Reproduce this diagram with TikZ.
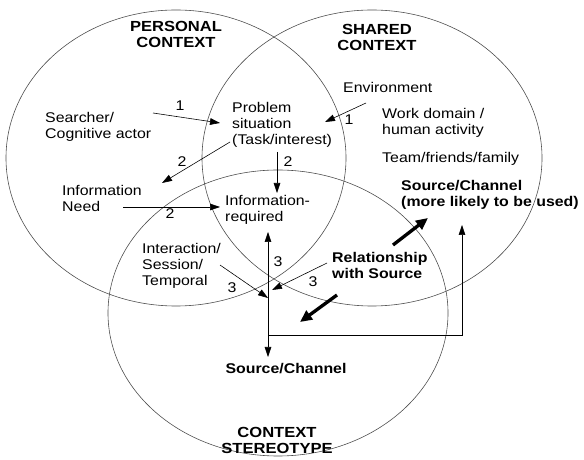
\documentclass[tikz,border=0pt]{standalone}
\usepackage{fontspec}
\setmainfont{Liberation Sans}[FakeStretch=1.13]
\usepackage{tikz}
\usetikzlibrary{arrows.meta, calc, positioning}

\begin{document}
\begin{tikzpicture}[x=0.03cm, y=-0.03cm,
  every node/.style={inner sep=0pt, font=\fontsize{12}{13.5}\selectfont},
  ring/.style={draw=black!70, line width=0.5pt},
  head/.style={align=center, font=\fontsize{12.5}{14}\selectfont\bfseries},
  txt/.style={align=left, anchor=north west},
  boldtxt/.style={txt, font=\fontsize{12}{13.5}\selectfont\bfseries},
  flow/.style={-{Triangle[length=3mm, width=2mm]}, line width=0.5pt},
  bigflow/.style={-{Triangle[length=3.6mm, width=3.2mm]}, line width=1mm}]

\useasboundingbox (0,0) rectangle (584,460);

% the three contexts
\coordinate (P) at (176,158);
\coordinate (S) at (372,158);
\coordinate (T) at (278,313);
\draw[ring] (P) ellipse [x radius=5.1cm, y radius=4.44cm];
\draw[ring] (S) ellipse [x radius=5.1cm, y radius=4.44cm];
\draw[ring] (T) ellipse [x radius=5.1cm, y radius=4.29cm];

\node[head, anchor=north] (personal) at (176,21) {PERSONAL\\CONTEXT};
\node[head, anchor=north] (shared) at (377,24) {SHARED\\CONTEXT};
\node[head, anchor=north] (stereo) at (277,427) {CONTEXT\\STEREOTYPE};

\node[txt] (searcher) at (45,112) {Searcher/\\Cognitive actor};
\node[txt] (problem) at (232,102) {Problem\\situation\\(Task/interest)};
\node[txt] (need) at (62,185) {Information\\Need};
\node[txt] (required) at (225,195) {Information-\\required};
\node[txt] (interact) at (142,243) {Interaction/\\Session/\\Temporal};
\node[txt] (env) at (343,82) {Environment};
\node[txt] (work) at (382,108) {Work domain /\\human activity};
\node[txt] (team) at (382,152) {Team/friends/family};
\node[boldtxt] (likely) at (401,180) {Source/Channel\\(more likely to be used)};
\node[boldtxt] (relation) at (332,252) {Relationship\\with Source};
\node[boldtxt, anchor=north] (source) at (286,363) {Source/Channel};

% arrow ends
\coordinate (a1s) at (153,113);
\coordinate (a1e) at (220,123);
\coordinate (envs) at (366,103);
\coordinate (enve) at (325,122);
\coordinate (needs) at (230,142);
\coordinate (neede) at (162,183);
\coordinate (downs) at (277,152);
\coordinate (downe) at (277,193);
\coordinate (reqs) at (123,207);
\coordinate (reqe) at (220,207);
\coordinate (ints) at (220,265);
\coordinate (inte) at (268,298);
\coordinate (rels) at (327,263);
\coordinate (rele) at (272,290);
\coordinate (vtop) at (268,232);
\coordinate (vbot) at (268,357);
\coordinate (junc) at (268,335);
\coordinate (upend) at (462,225);

\draw[flow] (a1s) -- (a1e);
\draw[flow] (envs) -- (enve);
\draw[flow] (needs) -- (neede);
\draw[flow] (downs) -- (downe);
\draw[flow] (reqs) -- (reqe);
\draw[flow] (ints) -- (inte);
\draw[flow] (rels) -- (rele);
\draw[{Triangle[length=3mm, width=2mm]}-{Triangle[length=3mm, width=2mm]}, line width=0.5pt] (vtop) -- (vbot);
\draw[flow] (junc) -| (upend);

\draw[bigflow] (393,245) coordinate (rup) -- (428,218) coordinate (rupe);
\draw[bigflow] (337,295) coordinate (rdn) -- (300,322) coordinate (rdne);

\node (n1a) at (180,106) {1};
\node (n1b) at (349,120) {1};
\node (n2a) at (182,162) {2};
\node (n2b) at (288,162) {2};
\node (n2c) at (170,214) {2};
\node (n3a) at (232,288) {3};
\node (n3b) at (278,262) {3};
\node (n3c) at (313,282) {3};

\end{tikzpicture}
\end{document}
